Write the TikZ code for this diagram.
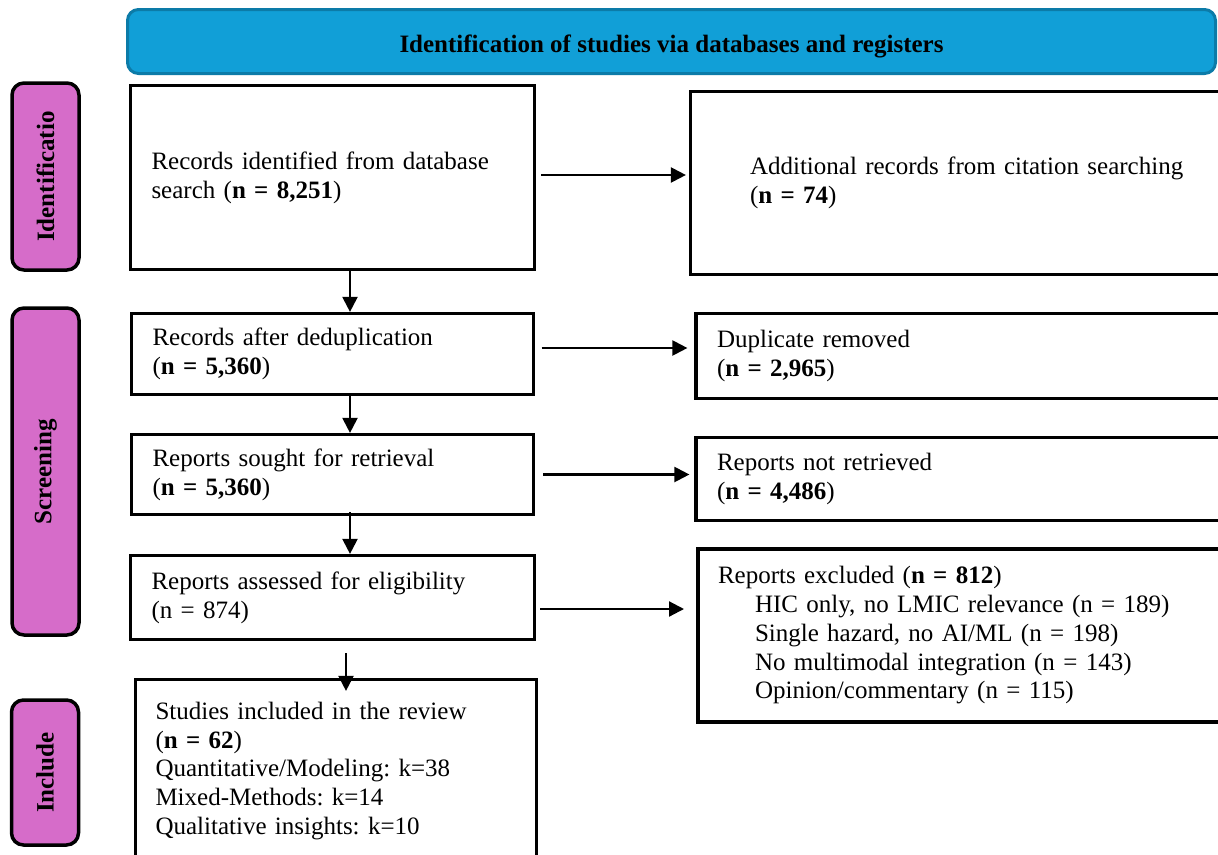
\documentclass[tikz,border=0pt]{standalone}
\usepackage{fontspec}
\setmainfont{Liberation Serif}
\usetikzlibrary{arrows.meta,calc}
\definecolor{hdrfill}{HTML}{119FD7}
\definecolor{hdrline}{HTML}{0C7BA8}
\definecolor{sidefill}{HTML}{D66CC9}
\frenchspacing
\begin{document}
\frenchspacing
\begin{tikzpicture}[x=1pt,y=-1pt,
  font=\fontsize{25}{28.75}\selectfont,
  box/.style={draw, line width=3.2pt, rectangle, align=left, inner ysep=0pt},
  arr/.style={line width=2.2pt, -{Triangle[length=15pt,width=15pt]}},
  side/.style={draw, line width=3.5pt, fill=sidefill, rounded corners=12pt, rotate=90,
    minimum height=67pt, inner sep=0pt, font=\fontsize{25}{28.75}\selectfont\bfseries},
  header/.style={draw=hdrline, line width=3pt, fill=hdrfill, rounded corners=11pt,
    minimum width=1088pt, minimum height=64pt, text height=21pt, text depth=0pt,
    font=\fontsize{25}{28.75}\selectfont\bfseries}]
\useasboundingbox (0,0) rectangle (1218,854);
\clip (0,0) rectangle (1218,854);

% header
\node[header] (hdr) at (671.5,41.5) {Identification of studies via databases and registers};

% side labels
\node[side, minimum width=187pt] (s1) at (45.5,176.5) {Identificatio};
\node[side, minimum width=327pt] (s2) at (45.5,471.5) {Screening};
\node[side, minimum width=145pt] (s3) at (45,772.5) {Include};

% main column
\node[box, minimum width=404pt, minimum height=184pt, text width=362pt] (b1) at (332.5,177.5)
  {Records identified from database\\search (\textbf{n = 8,251})};
\node[box, minimum width=402pt, minimum height=81pt, text width=360pt] (b2) at (332.5,354)
  {Records after deduplication\\(\textbf{n = 5,360})};
\node[box, minimum width=402pt, minimum height=80pt, text width=360pt] (b3) at (332.5,474.5)
  {Reports sought for retrieval\\(\textbf{n = 5,360})};
\node[box, minimum width=404pt, minimum height=84pt, text width=362pt] (b4) at (332.5,597.5)
  {Reports assessed for eligibility\\(n = 874)};
\node[box, minimum width=401pt, minimum height=183pt, text width=361pt] (b5) at (336,771)
  {Studies included in the review\\(\textbf{n = 62})\\Quantitative/Modeling: k=38\\Mixed-Methods: k=14\\Qualitative insights: k=10};

% right column
\node[box, minimum width=600pt, minimum height=183pt, text width=481pt] (r1) at (990.5,183)
  {Additional records from citation searching\\(\textbf{n = 74})};
\node[box, minimum width=594pt, minimum height=85pt, text width=552pt] (r2) at (993,356)
  {Duplicate removed\\(\textbf{n = 2,965})};
\node[box, minimum width=594pt, minimum height=83pt, text width=552pt] (r3) at (993,479)
  {Reports not retrieved\\(\textbf{n = 4,486})};
\node[box, line width=4pt, minimum width=592pt, minimum height=173pt, text width=552pt] (r4) at (994,635.5)
  {Reports excluded (\textbf{n = 812})\\
   \hspace*{37pt}HIC only, no LMIC relevance (n = 189)\\
   \hspace*{37pt}Single hazard, no AI/ML (n = 198)\\
   \hspace*{37pt}No multimodal integration (n = 143)\\
   \hspace*{37pt}Opinion/commentary (n = 115)};

% vertical arrows
\draw[arr] ([xshift=17.5pt]b1.south) -- ([xshift=17.5pt]b2.north);
\draw[arr] ([xshift=17.5pt,yshift=2pt]b2.south) -- ([xshift=17.5pt]b3.north);
\draw[arr] ([xshift=17.5pt,yshift=4pt]b3.south) -- ([xshift=17.5pt]b4.north);
\draw[arr] ([xshift=13.5pt,yshift=-12pt]b4.south) -- ([xshift=10pt,yshift=-13pt]b5.north);

% horizontal arrows
\coordinate (p1) at ($(b1.east)+(5,-2.5)$);
\coordinate (p2) at ($(b2.east)+(6.5,-6)$);
\coordinate (p3) at ($(b3.east)+(8,0)$);
\coordinate (p4) at ($(b4.east)+(4,11.5)$);
\draw[arr] (p1) -- ($(p1 -| r1.west)+(-3,0)$);
\draw[arr] (p2) -- ($(p2 -| r2.west)+(-7,0)$);
\draw[arr] (p3) -- ($(p3 -| r3.west)+(-5,0)$);
\draw[arr] (p4) -- ($(p4 -| r4.west)+(-12,0)$);
\end{tikzpicture}
\end{document}
